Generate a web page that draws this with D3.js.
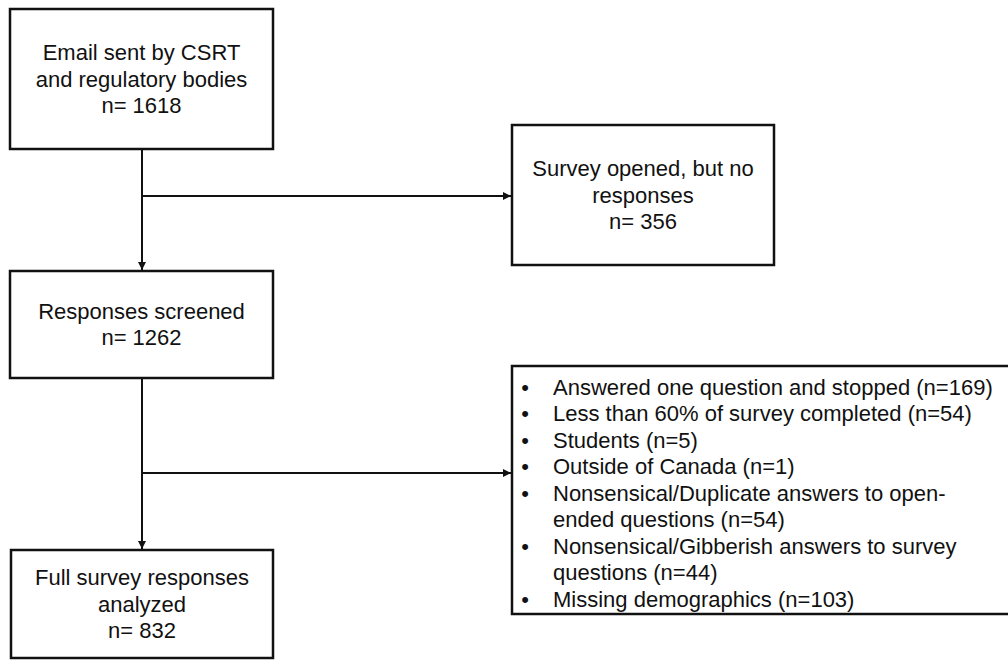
<!DOCTYPE html>
<html>
<head>
<meta charset="utf-8">
<script src="https://cdn.jsdelivr.net/npm/d3@7/dist/d3.min.js"></script>
<style>
  html, body { margin: 0; padding: 0; background: #fff; }
  svg { display: block; }
  text { font-family: "Liberation Sans", Arial, Helvetica, sans-serif; fill: #111; }
</style>
</head>
<body>
<svg id="chart" width="1008" height="660"></svg>
<script>
// ---- data ----
const stageLabels = [
  ["Email sent by CSRT", "and regulatory bodies"],
  ["Responses screened"],
  ["Full survey responses", "analyzed"]
];
const stageCounts = [1618, 1262, 832];

const sideLabels = [["Survey opened, but no", "responses"]];
const sideCounts = [356];

const exclusionReasons = [
  ["Answered one question and stopped"],
  ["Less than 60% of survey completed"],
  ["Students"],
  ["Outside of Canada"],
  ["Nonsensical/Duplicate answers to open-", "ended questions"],
  ["Nonsensical/Gibberish answers to survey", "questions"],
  ["Missing demographics"]
];
const exclusionCounts = [169, 54, 5, 1, 54, 44, 103];

// ---- layout ----
const svg = d3.select("#chart");
const fontSize = 22, lineH = 26.5;

const stageBoxes = [
  {x0: 10, x1: 273, y0: 9, y1: 149},
  {x0: 10, x1: 273, y0: 271, y1: 378},
  {x0: 11, x1: 273, y0: 550, y1: 658}
];
const sideBox = {x0: 512, x1: 774, y0: 125, y1: 265};
const listBox = {x0: 512, x1: 1014, y0: 366, y1: 614};
const mainX = 142;
const branchY = [196, 473];

svg.append("defs").append("marker")
  .attr("id", "arr").attr("viewBox", "0 0 10 10")
  .attr("refX", 10).attr("refY", 5)
  .attr("markerWidth", 4.2).attr("markerHeight", 4.2)
  .attr("markerUnits", "strokeWidth")
  .attr("orient", "auto")
  .append("path").attr("d", "M0,0 L10,5 L0,10 Z").attr("fill", "#111");

const lineGen = d3.line();
const connectors = [
  {pts: [[mainX, stageBoxes[0].y1], [mainX, stageBoxes[1].y0 - 1]], arrow: true},
  {pts: [[mainX, stageBoxes[1].y1], [mainX, stageBoxes[2].y0 - 1]], arrow: true},
  {pts: [[mainX, branchY[0]], [sideBox.x0 - 1, branchY[0]]], arrow: true},
  {pts: [[mainX, branchY[1]], [listBox.x0 - 1, branchY[1]]], arrow: true}
];
svg.selectAll("path.conn").data(connectors).join("path")
  .attr("class", "conn")
  .attr("d", d => lineGen(d.pts))
  .attr("fill", "none").attr("stroke", "#111").attr("stroke-width", 2)
  .attr("marker-end", d => d.arrow ? "url(#arr)" : null);

function drawBox(b) {
  svg.append("rect")
    .attr("x", b.x0).attr("y", b.y0)
    .attr("width", b.x1 - b.x0).attr("height", b.y1 - b.y0)
    .attr("fill", "#fff").attr("stroke", "#111").attr("stroke-width", 2.5);
}

function centeredText(b, lines) {
  const cx = (b.x0 + b.x1) / 2, cy = (b.y0 + b.y1) / 2;
  const startY = cy - (lines.length - 1) * lineH / 2;
  svg.append("g").selectAll("text").data(lines).join("text")
    .attr("x", cx).attr("y", (d, i) => startY + i * lineH)
    .attr("dy", "0.35em").attr("text-anchor", "middle")
    .attr("font-size", fontSize).text(d => d);
}

stageBoxes.forEach((b, i) => {
  drawBox(b);
  centeredText(b, stageLabels[i].concat(["n= " + stageCounts[i]]));
});
drawBox(sideBox);
centeredText(sideBox, sideLabels[0].concat(["n= " + sideCounts[0]]));

drawBox(listBox);
const items = exclusionReasons.map((lines, i) => {
  const l = lines.slice();
  l[l.length - 1] = l[l.length - 1] + " (n=" + exclusionCounts[i] + ")";
  return l;
});
let row = 0;
const listG = svg.append("g");
const firstY = listBox.y0 + 21;
items.forEach(lines => {
  listG.append("text")
    .attr("x", 525).attr("y", firstY + row * lineH).attr("dy", "0.35em")
    .attr("text-anchor", "middle").attr("font-size", fontSize).text("•");
  lines.forEach(t => {
    listG.append("text")
      .attr("x", 553).attr("y", firstY + row * lineH).attr("dy", "0.35em")
      .attr("font-size", fontSize).text(t);
    row++;
  });
});
</script>
</body>
</html>
